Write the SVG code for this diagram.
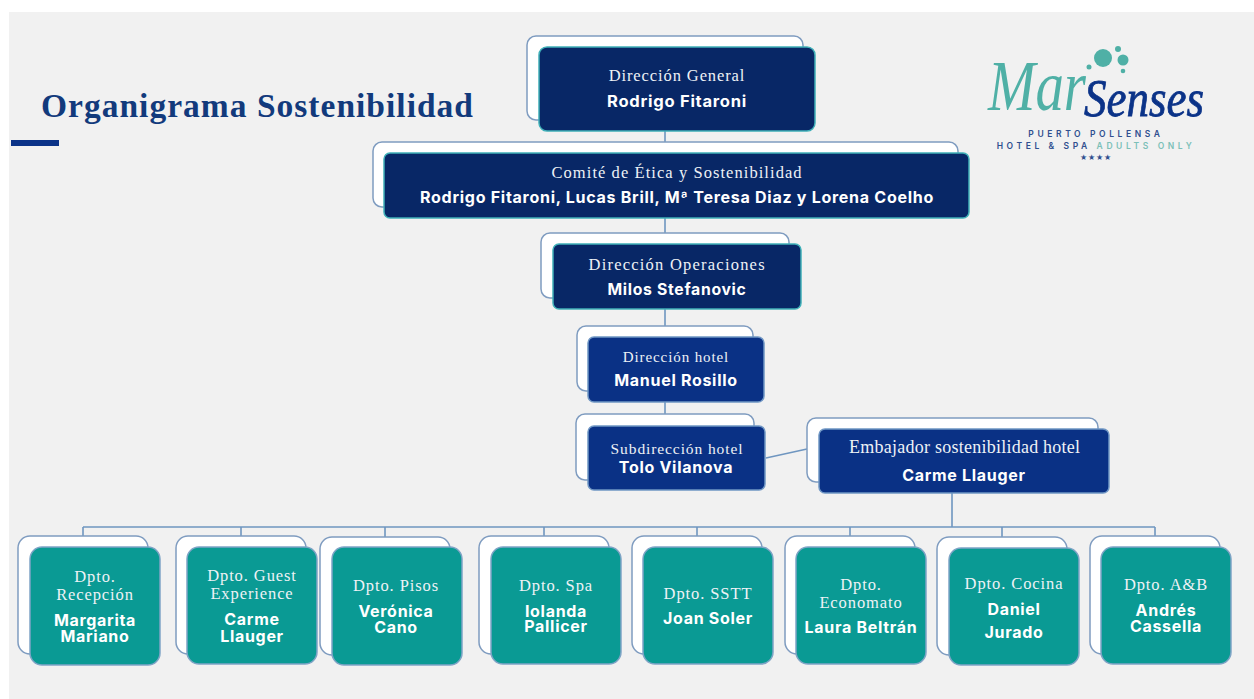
<svg xmlns="http://www.w3.org/2000/svg" width="1254" height="699" viewBox="0 0 1254 699">
<style>
.back{fill:#fff;stroke:#7f9cc0;stroke-width:1.5}
.navy{fill:#082766;stroke:#3fb0b8;stroke-width:1.5}
.blue{fill:#0a3185;stroke:#6f96c4;stroke-width:1.5}
.teal{fill:#0a9a94;stroke:#7fa4c6;stroke-width:1.5}
.t{font-family:"Liberation Serif",serif;fill:#eef2f6;text-anchor:middle;letter-spacing:.9px}
.n{font-family:"Inter","Liberation Sans",sans-serif;font-weight:700;fill:#fff;text-anchor:middle;letter-spacing:.7px}
.s16{font-size:16.5px}
.b16{font-size:16px}
.line{stroke:#6f96c0;stroke-width:1.6;fill:none}
.lg{font-family:"Inter","Liberation Sans",sans-serif;font-weight:600;font-size:8.5px;letter-spacing:3.6px;fill:#2f4f8f;text-anchor:middle}
</style>
<rect width="1254" height="699" fill="#fff"/>
<rect x="9" y="12" width="1245" height="687" fill="#f1f1f1"/>
<g id="title">
<text x="41" y="117" font-family="Liberation Serif,serif" font-weight="700" font-size="33.5" fill="#123a7c" textLength="432" lengthAdjust="spacing">Organigrama Sostenibilidad</text>
<rect x="11" y="140" width="48" height="6" fill="#0b3388"/>
</g>
<g id="connectors">
<path class="line" d="M665 131V142M665 207V233M665 298V326M665 391V414M766 458L807 449M952 493V527M83 527H1155M83 527V536M241 527V536M385 527V537M544 527V536M697 527V536M850 527V536M1002 527V537M1155 527V536"/>
</g>
<g id="dg">
<rect class="back" x="527" y="36" width="276" height="84" rx="9"/>
<rect class="navy" x="539" y="47" width="276" height="84" rx="8"/>
<text class="t s16" x="677" y="81">Dirección General</text>
<text class="n b16" x="677" y="107" textLength="140" lengthAdjust="spacingAndGlyphs">Rodrigo Fitaroni</text>
</g>
<g id="comite">
<rect class="back" x="373" y="142" width="585" height="65" rx="9"/>
<rect class="navy" x="384" y="153" width="585" height="65" rx="6"/>
<text class="t s16" x="677" y="178" textLength="251">Comité de Ética y Sostenibilidad</text>
<text class="n b16" x="677" y="203" textLength="514" lengthAdjust="spacingAndGlyphs">Rodrigo Fitaroni, Lucas Brill, Mª Teresa Diaz y Lorena Coelho</text>
</g>
<g id="operaciones">
<rect class="back" x="541" y="233" width="248" height="65" rx="9"/>
<rect class="navy" x="553" y="244" width="248" height="65" rx="6"/>
<text class="t s16" x="677" y="270" textLength="177">Dirección Operaciones</text>
<text class="n b16" x="677" y="295" textLength="139" lengthAdjust="spacingAndGlyphs">Milos Stefanovic</text>
</g>
<g id="hotel">
<rect class="back" x="577" y="326" width="176" height="65" rx="9"/>
<rect class="blue" x="588" y="337" width="176" height="65" rx="6"/>
<text class="t" font-size="15" x="676" y="362">Dirección hotel</text>
<text class="n b16" x="676" y="386">Manuel Rosillo</text>
</g>
<g id="subdireccion">
<rect class="back" x="576" y="414" width="178" height="66" rx="9"/>
<rect class="blue" x="588" y="426" width="177" height="64" rx="6"/>
<text class="t" font-size="15.5" x="677" y="454">Subdirección hotel</text>
<text class="n b16" x="676" y="473">Tolo Vilanova</text>
</g>
<g id="embajador">
<rect class="back" x="807" y="418" width="291" height="64" rx="9"/>
<rect class="blue" x="819" y="429" width="290" height="64" rx="6"/>
<text class="t" font-size="18" x="965" y="453" textLength="232">Embajador sostenibilidad hotel</text>
<text class="n b16" x="964" y="481">Carme Llauger</text>
</g>
<g id="recepcion">
<rect class="back" x="18" y="536" width="130" height="118" rx="12"/>
<rect class="teal" x="30" y="547" width="130" height="118" rx="12"/>
<text class="t s16" x="95" y="582">Dpto.</text><text class="t s16" x="95" y="600">Recepción</text>
<text class="n b16" x="95" y="626">Margarita</text><text class="n b16" x="95" y="642">Mariano</text>
</g>
<g id="guest">
<rect class="back" x="176" y="536" width="130" height="118" rx="12"/>
<rect class="teal" x="187" y="547" width="130" height="117" rx="12"/>
<text class="t s16" x="252" y="581">Dpto. Guest</text><text class="t s16" x="252" y="599">Experience</text>
<text class="n b16" x="252" y="625">Carme</text><text class="n b16" x="252" y="642">Llauger</text>
</g>
<g id="pisos">
<rect class="back" x="320" y="537" width="130" height="118" rx="12"/>
<rect class="teal" x="332" y="547" width="130" height="118" rx="12"/>
<text class="t s16" x="396" y="591">Dpto. Pisos</text>
<text class="n b16" x="396" y="617">Verónica</text><text class="n b16" x="396" y="633">Cano</text>
</g>
<g id="spa">
<rect class="back" x="479" y="536" width="130" height="118" rx="12"/>
<rect class="teal" x="491" y="547" width="130" height="117" rx="12"/>
<text class="t s16" x="556" y="591">Dpto. Spa</text>
<text class="n b16" x="556" y="617">Iolanda</text><text class="n b16" x="556" y="632">Pallicer</text>
</g>
<g id="sstt">
<rect class="back" x="632" y="536" width="130" height="118" rx="12"/>
<rect class="teal" x="643" y="547" width="130" height="117" rx="12"/>
<text class="t s16" x="708" y="599">Dpto. SSTT</text>
<text class="n b16" x="708" y="624">Joan Soler</text>
</g>
<g id="economato">
<rect class="back" x="785" y="536" width="130" height="118" rx="12"/>
<rect class="teal" x="796" y="547" width="130" height="117" rx="12"/>
<text class="t s16" x="861" y="590">Dpto.</text><text class="t s16" x="861" y="608">Economato</text>
<text class="n b16" x="861" y="633">Laura Beltrán</text>
</g>
<g id="cocina">
<rect class="back" x="937" y="537" width="130" height="118" rx="12"/>
<rect class="teal" x="949" y="548" width="130" height="117" rx="12"/>
<text class="t s16" x="1014" y="589">Dpto. Cocina</text>
<text class="n b16" x="1014" y="615">Daniel</text><text class="n b16" x="1014" y="638">Jurado</text>
</g>
<g id="ab">
<rect class="back" x="1090" y="536" width="130" height="118" rx="12"/>
<rect class="teal" x="1101" y="547" width="130" height="117" rx="12"/>
<text class="t s16" x="1166" y="590">Dpto. A&amp;B</text>
<text class="n b16" x="1166" y="616">Andrés</text><text class="n b16" x="1166" y="632">Cassella</text>
</g>
<g id="logo">
<circle cx="1103" cy="58" r="9" fill="#4fb0a6"/><circle cx="1123" cy="60" r="5.5" fill="#4fb0a6"/><circle cx="1118" cy="49" r="3" fill="#4fb0a6"/><circle cx="1089" cy="67" r="2.5" fill="#4fb0a6"/><circle cx="1123" cy="71" r="2.3" fill="#4fb0a6"/>
<text x="988" y="110" font-family="Liberation Serif,serif" font-style="italic" font-size="72" fill="#4fb0a6" textLength="98" lengthAdjust="spacingAndGlyphs">Mar</text>
<text x="1084" y="116" font-family="Liberation Serif,serif" font-style="italic" font-size="52" stroke="#0b3388" stroke-width=".8" fill="#0b3388" textLength="120" lengthAdjust="spacingAndGlyphs">Senses</text>
<text class="lg" x="1096" y="137">PUERTO POLLENSA</text>
<text class="lg" x="1096" y="149">HOTEL &amp; SPA <tspan fill="#7cc0b8">ADULTS ONLY</tspan></text>
<text x="1096" y="160" font-family="Liberation Sans,sans-serif" font-size="8" letter-spacing="1" fill="#2f4f8f" text-anchor="middle">★★★★</text>
</g>
</svg>
